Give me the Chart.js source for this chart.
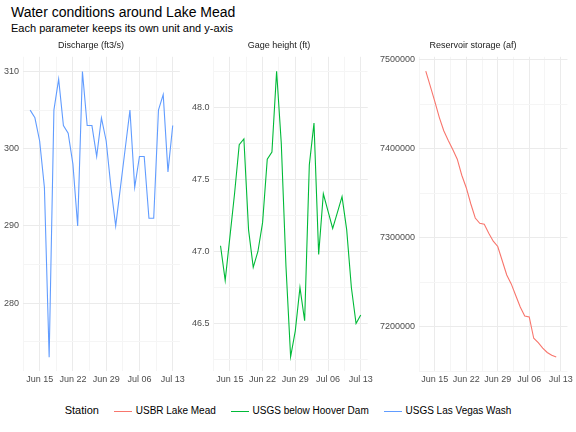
<!DOCTYPE html>
<html><head><meta charset="utf-8">
<script src="https://cdn.jsdelivr.net/npm/chart.js@4"></script>
<style>
body{margin:0;width:576px;height:432px;background:#fff;font-family:"Liberation Sans",Arial,sans-serif;position:relative;overflow:hidden}
.t{position:absolute;left:11px;top:4px;font-size:14px;color:#000}
.s{position:absolute;left:11px;top:22px;font-size:11px;color:#000}
.c{position:absolute;top:38px;height:350px}
.lg{position:absolute;top:404px;left:0;width:576px;text-align:center;font-size:10px;color:#000}
.lg span{display:inline-block;margin:0 6px}
.lg i{display:inline-block;width:18px;height:0;vertical-align:middle;margin-right:4px;border-top:1.2px solid}
</style></head><body>
<div class="t">Water conditions around Lake Mead</div>
<div class="s">Each parameter keeps its own unit and y-axis</div>
<div class="c" style="left:0;width:188px"><canvas id="c1"></canvas></div>
<div class="c" style="left:188px;width:188px"><canvas id="c2"></canvas></div>
<div class="c" style="left:376px;width:200px"><canvas id="c3"></canvas></div>
<div class="lg"><span style="font-size:11px">Station</span>
<span><i style="border-color:#F8766D"></i>USBR Lake Mead</span>
<span><i style="border-color:#00BA38"></i>USGS below Hoover Dam</span>
<span><i style="border-color:#619CFF"></i>USGS Las Vegas Wash</span></div>
<script>
// days counted from Jun 1 (Jun 13 = 12)
const days = Array.from({length: 31}, (_, i) => 12 + i);
const discharge = [305,304,301,295,273,305,309,303,302,298,290,310,303,303,299,304,301,295,290,295,300,305,295,299,299,291,291,305,307,297,303];
const gage = [47.04,46.8,47.1,47.4,47.74,47.78,47.15,46.89,47.0,47.2,47.64,47.69,48.25,47.75,46.9,46.27,46.45,46.75,46.52,47.6,47.89,46.98,47.4,47.28,47.16,47.27,47.38,47.15,46.75,46.5,46.56];
const storage = [7487,7470,7453,7435,7420,7409,7399,7388,7370,7356,7338,7322,7316,7315,7305,7296,7290,7274,7258,7248,7235,7222,7212,7211,7187,7182,7176,7171,7168,7166].map(v => v * 1000);
const xTicks = {14: 'Jun 15', 21: 'Jun 22', 28: 'Jun 29', 35: 'Jul 06', 42: 'Jul 13'};

function panel(id, title, vals, color, ymin, ymax, step, major, fmt) {
  new Chart(document.getElementById(id), {
    type: 'line',
    data: {datasets: [{data: vals.map((v, i) => ({x: days[i], y: v})), borderColor: color, borderWidth: 1.1, pointRadius: 0, tension: 0}]},
    options: {
      responsive: true, maintainAspectRatio: false, animation: false,
      layout: {padding: {right: 6, left: 0}},
      plugins: {legend: {display: false}, tooltip: {enabled: false},
        title: {display: true, text: title, color: '#1a1a1a', font: {size: 9, weight: 'normal'}, padding: {top: 2, bottom: 6}}},
      scales: {
        x: {type: 'linear', min: 10.5, max: 43.5,
          afterBuildTicks: ax => { const t = []; for (let d = 10.5; d <= 42; d += 3.5) t.push({value: d}); ax.ticks = t; },
          ticks: {autoSkip: false, maxRotation: 0, color: '#4d4d4d', font: {size: 9}, callback: v => xTicks[v] || ''},
          grid: {color: c => xTicks[c.tick.value] ? '#ebebeb' : '#f5f5f5', drawTicks: false},
          border: {display: false}},
        y: {min: ymin, max: ymax,
          afterBuildTicks: ax => { const t = []; for (let v = Math.ceil(ymin / step) * step; v <= ymax; v += step) t.push({value: +v.toFixed(4)}); ax.ticks = t; },
          ticks: {autoSkip: false, color: '#4d4d4d', font: {size: 9}, padding: 4,
            callback: v => Math.abs(v / major - Math.round(v / major)) < 1e-6 ? fmt(v) : ''},
          grid: {color: c => Math.abs(c.tick.value / major - Math.round(c.tick.value / major)) < 1e-6 ? '#ebebeb' : '#f5f5f5', drawTicks: false},
          border: {display: false}}
      }
    }
  });
}
panel('c1', 'Discharge (ft3/s)', discharge, '#619CFF', 271.2, 311.9, 5, 10, v => String(v));
panel('c2', 'Gage height (ft)', gage, '#00BA38', 46.17, 48.35, 0.25, 0.5, v => v.toFixed(1));
panel('c3', 'Reservoir storage (af)', storage, '#F8766D', 7150000, 7503000, 50000, 100000, v => String(v));
</script>
</body></html>
